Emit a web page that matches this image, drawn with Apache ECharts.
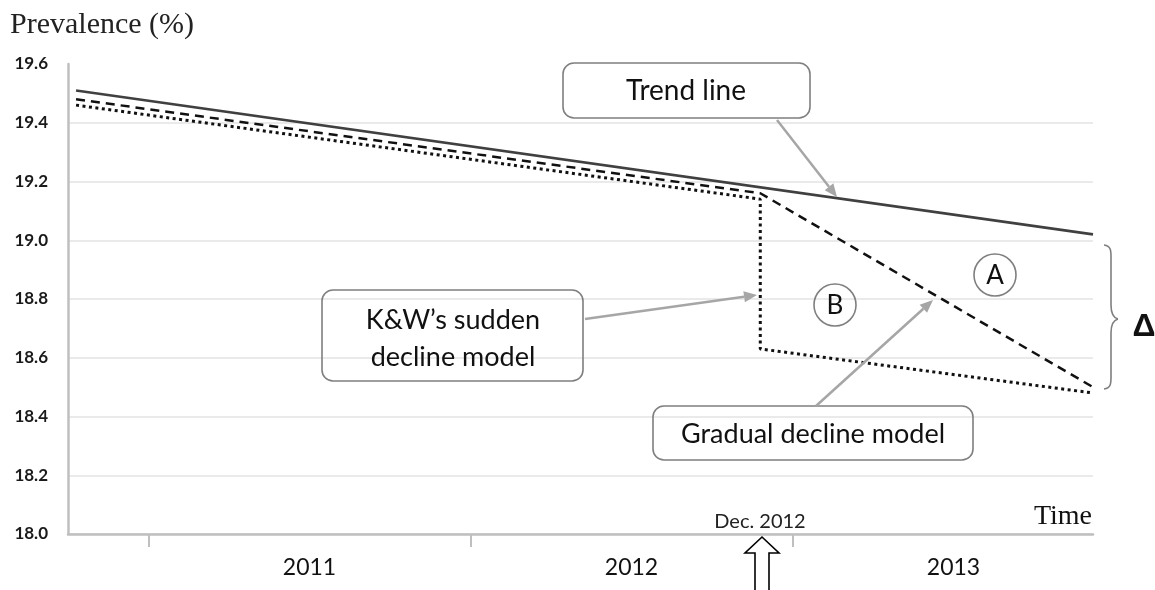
<!DOCTYPE html>
<html>
<head>
<meta charset="utf-8">
<script src="https://cdn.jsdelivr.net/npm/echarts@6/dist/echarts.min.js"></script>
<style>html,body{margin:0;padding:0;background:#fff}#c{width:1155px;height:590px}</style>
</head>
<body>
<div id="c"></div>
<script>
// x in months since Jan 2011
const years = ['2011', '2012', '2013'];
const yearCenters = [6, 18, 30];
const yearTicks = [0, 12, 24];
const trendX = [-2.7, 35.2];
const trendY = [19.51, 19.02];
const gradualX = [-2.7, 22.8, 35.2];
const gradualY = [19.48, 19.16, 18.50];
const suddenX = [-2.7, 22.8, 22.8, 35.2];
const suddenY = [19.46, 19.14, 18.63, 18.48];

const zip = (xs, ys) => xs.map((x, i) => [x, ys[i]]);

function arrow(x1, y1, x2, y2) {
  const a = Math.atan2(y2 - y1, x2 - x1);
  const L = 13, W = 5.5;
  const bx = x2 - L * Math.cos(a), by = y2 - L * Math.sin(a);
  const px = -Math.sin(a) * W, py = Math.cos(a) * W;
  return [
    {type: 'line', shape: {x1, y1, x2: bx, y2: by}, style: {stroke: '#a6a6a6', lineWidth: 2.5}, z: 20},
    {type: 'polygon', shape: {points: [[x2, y2], [bx + px, by + py], [bx - px, by - py]]}, style: {fill: '#a6a6a6'}, z: 20}
  ];
}
function box(x, y, w, h) {
  return {type: 'rect', shape: {x, y, width: w, height: h, r: 11}, style: {fill: 'none', stroke: '#7f7f7f', lineWidth: 1.6}, z: 20};
}
function txt(t, x, y, font, align, fill) {
  return {type: 'text', x, y, style: {text: t, font, fill: fill || '#111', align: align || 'center', verticalAlign: 'middle'}, z: 21};
}
const sans = 'Lato, "Open Sans", sans-serif';
const serif = '"Liberation Serif", serif';

const graphic = [
  txt('Prevalence (%)', 10, 25, '30px ' + serif, 'left', '#222'),
  txt('Time', 1092, 517, '28px ' + serif, 'right'),
  txt('Dec. 2012', 760, 522, '20px ' + sans, 'center', '#222'),
  box(563, 63, 247, 55),
  txt('Trend line', 686, 91, '28px ' + sans),
  ...arrow(777, 120, 837, 197),
  box(322, 290, 261, 91),
  txt('K\u0026W\u2019s sudden', 453, 320, '27px ' + sans),
  txt('decline model', 453, 357, '27px ' + sans),
  ...arrow(585, 319, 757, 295),
  box(653, 406, 320, 54),
  txt('Gradual decline model', 813, 434, '27px ' + sans),
  ...arrow(816, 406, 933, 300),
  {type: 'circle', shape: {cx: 835, cy: 305, r: 21}, style: {fill: 'none', stroke: '#7f7f7f', lineWidth: 1.6}, z: 20},
  txt('B', 835, 306, '26px ' + sans),
  {type: 'circle', shape: {cx: 995, cy: 275, r: 21}, style: {fill: 'none', stroke: '#7f7f7f', lineWidth: 1.6}, z: 20},
  txt('A', 995, 276, '26px ' + sans),
  // brace
  {type: 'bezierCurve', shape: {x1: 1104, y1: 245, cpx1: 1112, cpy1: 246, x2: 1111, y2: 262, cpx2: 1111, cpy2: 252}, style: {stroke: '#7f7f7f', lineWidth: 1.6, fill: 'none'}, z: 20},
  {type: 'line', shape: {x1: 1111, y1: 262, x2: 1111, y2: 305}, style: {stroke: '#7f7f7f', lineWidth: 1.6}, z: 20},
  {type: 'bezierCurve', shape: {x1: 1111, y1: 305, cpx1: 1111, cpy1: 315, x2: 1118, y2: 319, cpx2: 1114, cpy2: 318}, style: {stroke: '#7f7f7f', lineWidth: 1.6, fill: 'none'}, z: 20},
  {type: 'bezierCurve', shape: {x1: 1118, y1: 319, cpx1: 1114, cpy1: 320, x2: 1111, y2: 333, cpx2: 1111, cpy2: 323}, style: {stroke: '#7f7f7f', lineWidth: 1.6, fill: 'none'}, z: 20},
  {type: 'line', shape: {x1: 1111, y1: 333, x2: 1111, y2: 372}, style: {stroke: '#7f7f7f', lineWidth: 1.6}, z: 20},
  {type: 'bezierCurve', shape: {x1: 1111, y1: 372, cpx1: 1111, cpy1: 382, x2: 1104, y2: 389, cpx2: 1112, cpy2: 388}, style: {stroke: '#7f7f7f', lineWidth: 1.6, fill: 'none'}, z: 20},
  txt('\u0394', 1144, 327, 'bold 32px "Liberation Sans", sans-serif'),
  // up arrow
  {type: 'polygon', shape: {points: [[762, 537], [779, 553], [769, 553], [769, 593], [755, 593], [755, 553], [745, 553]]}, style: {fill: '#fff', stroke: '#000', lineWidth: 1.6}, z: 20}
];

const chart = echarts.init(document.getElementById('c'), null, {renderer: 'canvas'});
chart.setOption({
  animation: false,
  grid: {left: 68, right: 62, top: 64, bottom: 56, containLabel: false},
  xAxis: {
    type: 'value', min: -3, max: 35.2,
    axisLine: {show: true, onZero: false, lineStyle: {color: '#bfbfbf', width: 2.5}},
    axisTick: {show: true, customValues: yearTicks, length: 13, lineStyle: {color: '#bfbfbf', width: 2}},
    axisLabel: {show: true, customValues: yearCenters, formatter: v => years[yearCenters.indexOf(v)], margin: 22, fontSize: 23, fontFamily: 'Lato', color: '#111'},
    splitLine: {show: false}
  },
  yAxis: {
    type: 'value', min: 18, max: 19.6, interval: 0.2,
    axisLine: {show: true, onZero: false, lineStyle: {color: '#bfbfbf', width: 2.5}},
    axisTick: {show: false},
    axisLabel: {formatter: v => v.toFixed(1), fontSize: 17, fontWeight: 'bold', fontFamily: 'Lato', color: '#1a1a1a', margin: 20},
    splitLine: {show: true, showMaxLine: false, lineStyle: {color: '#e3e3e3', width: 1.5}}
  },
  series: [
    {type: 'line', data: zip(suddenX, suddenY), symbol: 'none', lineStyle: {color: '#111', width: 3, type: [3, 3.5]}, z: 3},
    {type: 'line', data: zip(gradualX, gradualY), symbol: 'none', lineStyle: {color: '#111', width: 2.5, type: [9, 6]}, z: 4},
    {type: 'line', data: zip(trendX, trendY), symbol: 'none', lineStyle: {color: '#404040', width: 2.6}, z: 5}
  ],
  graphic: graphic
});
</script>
</body>
</html>
